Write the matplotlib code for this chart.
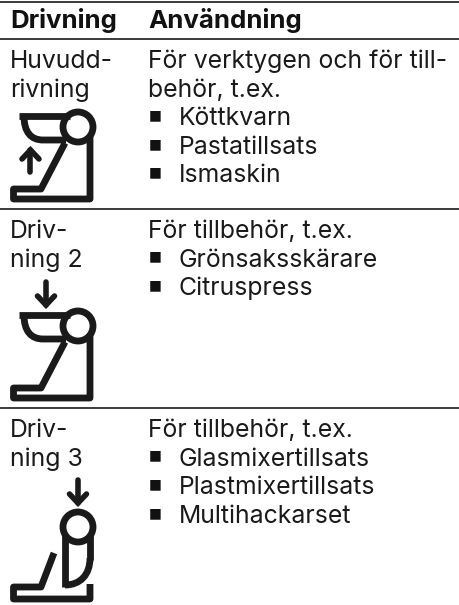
import matplotlib
matplotlib.use("Agg")
import matplotlib.pyplot as plt
from matplotlib.patches import Circle
from matplotlib.path import Path
from matplotlib.patches import PathPatch

headers = ["Drivning", "Användning"]
drive_labels = [["Huvudd-", "rivning"], ["Driv-", "ning 2"], ["Driv-", "ning 3"]]
intro_lines = [["För verktygen och för till-", "behör, t.ex."], ["För tillbehör, t.ex."], ["För tillbehör, t.ex."]]
bullets = [["Köttkvarn", "Pastatillsats", "Ismaskin"],
           ["Grönsaksskärare", "Citruspress"],
           ["Glasmixertillsats", "Plastmixertillsats", "Multihackarset"]]
row_tops = [39, 209, 408]
rules = [2, 39, 209, 408]

FS = 17.85
FSB = 18.6
FAM = "Inter"
LINE = 28.6
INK = "#1a1a1a"
LW = 4.9

fig = plt.figure(figsize=(4.6, 6.05), dpi=100)
ax = fig.add_axes([0, 0, 1, 1])
ax.set_xlim(0, 460)
ax.set_ylim(605, 0)
ax.axis("off")

for y in rules:
    ax.plot([0, 460], [y, y], color=INK, lw=1.2, solid_capstyle="butt")

ax.text(10, 28, headers[0], fontsize=FSB, family=FAM, weight="bold", color="#111111", va="baseline")
ax.text(148, 28, headers[1], fontsize=FSB, family=FAM, weight="bold", color="#111111", va="baseline")

for top, lab, intro, bl in zip(row_tops, drive_labels, intro_lines, bullets):
    for i, t in enumerate(lab):
        ax.text(10, top + 29 + i * LINE, t, fontsize=FS, family=FAM, color=INK, va="baseline")
    n = 0
    for t in intro:
        ax.text(148, top + 29 + n * LINE, t, fontsize=FS, family=FAM, color=INK, va="baseline")
        n += 1
    for t in bl:
        y = top + 29 + n * LINE
        ax.text(149, y - 6, "■", fontsize=9.8, family="DejaVu Sans", color="#111111", va="baseline")
        ax.text(179, y, t, fontsize=FS, family=FAM, color=INK, va="baseline")
        n += 1


def line(pts, lw=LW, join="miter", cap="butt"):
    xs, ys = zip(*pts)
    ax.plot(xs, ys, color=INK, lw=lw, solid_joinstyle=join, solid_capstyle=cap)


def circle(cx, cy):
    ax.add_patch(Circle((cx, cy), 15, fc="none", ec=INK, lw=LW))


def arrow(x, y0, y1):
    s = 1 if y1 > y0 else -1
    line([(x, y0), (x, y1)], lw=4.0, cap="round")
    line([(x - 8.5, y1 - s * 9), (x, y1), (x + 8.5, y1 - s * 9)], lw=4.0, cap="round", join="miter")


def mixer(dy):
    line([(90, 135 + dy), (90, 199 + dy), (13.5, 199 + dy), (13.5, 189 + dy), (41, 189 + dy), (65, 143 + dy)], join="round")
    line([(19, 116 + dy), (70, 116 + dy)])
    circle(78, 127 + dy)
    ax.add_patch(PathPatch(Path(
        [(24, 116 + dy), (24, 132 + dy), (31, 140 + dy), (43, 140 + dy), (66, 140 + dy)],
        [Path.MOVETO, Path.CURVE4, Path.CURVE4, Path.CURVE4, Path.LINETO]),
        fc="none", ec=INK, lw=LW, joinstyle="miter", capstyle="butt"))


mixer(0)
arrow(30.5, 172, 150)
mixer(199)
arrow(46, 282, 305)

# Drive 3 icon
circle(78, 527)
line([(65, 535), (65, 587)])
line([(90, 535), (90, 560)])
ax.add_patch(PathPatch(Path(
    [(90, 558), (90, 575), (80, 585), (65, 585)],
    [Path.MOVETO, Path.CURVE4, Path.CURVE4, Path.CURVE4]),
    fc="none", ec=INK, lw=LW, capstyle="butt"))
line([(90, 584), (90, 599), (13.5, 599), (13.5, 587), (41, 587), (54, 553)], join="round")
arrow(78, 480, 503)

fig.savefig("out.png", dpi=100)
